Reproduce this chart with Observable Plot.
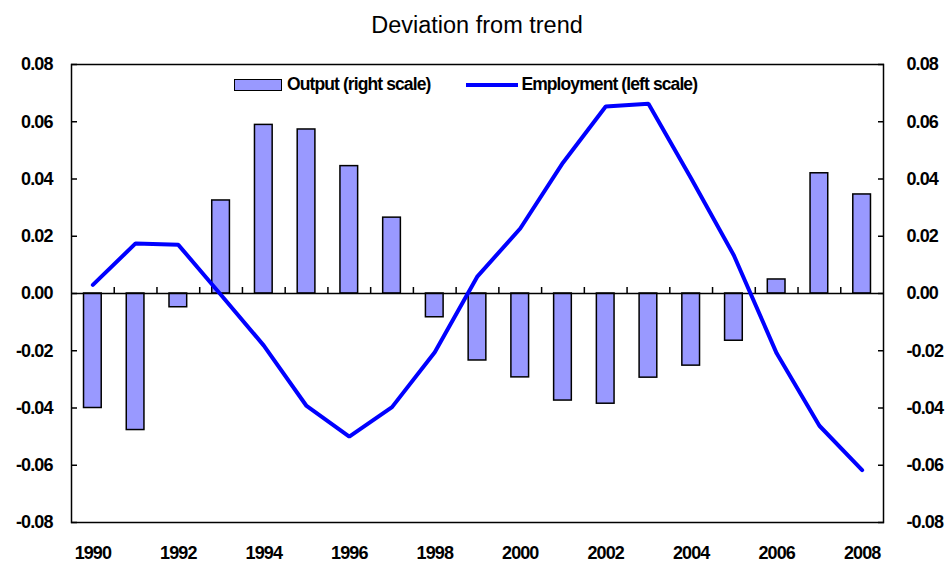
<!DOCTYPE html>
<html>
<head>
<meta charset="utf-8">
<script src="https://cdn.jsdelivr.net/npm/d3@7"></script>
<script src="https://cdn.jsdelivr.net/npm/@observablehq/plot@0.6"></script>
<style>
  body { margin: 0; background: #fff; }
  #wrap { position: relative; width: 946px; height: 563px; font-family: "Liberation Sans", Arial, sans-serif; }
  #title { height: 34px; padding-top: 14px; line-height: 23px; font-size: 23.5px; text-align: center; padding-left: 8px; color: #000; }
  #legend { position: absolute; top: 74px; left: 234px; display: flex; align-items: center; font-size: 17.5px; font-weight: bold; letter-spacing: -0.9px; color: #000; }
  #legend .sw { display: inline-block; }
</style>
</head>
<body>
<div id="wrap">
  <div id="title">Deviation from trend</div>
  <div id="chart"></div>
  <div id="legend"></div>
</div>
<script>
const years = [1990,1991,1992,1993,1994,1995,1996,1997,1998,1999,2000,2001,2002,2003,2004,2005,2006,2007,2008];
const output = [-0.0400,-0.0477,-0.0048,0.0325,0.0589,0.0573,0.0445,0.0265,-0.0083,-0.0234,-0.0293,-0.0374,-0.0385,-0.0294,-0.0252,-0.0165,0.0049,0.0420,0.0346];
const employment = [0.0030,0.0175,0.0170,-0.0005,-0.0182,-0.0393,-0.0500,-0.0397,-0.0205,0.0060,0.0227,0.0457,0.0653,0.0663,0.0402,0.0133,-0.0209,-0.0462,-0.0617];
const yTicks = [-0.08,-0.06,-0.04,-0.02,0,0.02,0.04,0.06,0.08];
const xLabels = [1990,1992,1994,1996,1998,2000,2002,2004,2006,2008];
const seriesNames = ["Output (right scale)", "Employment (left scale)"];

const barColor = "#9999ff";
const lineColor = "#0000ff";

const data = years.map((yr, i) => ({year: yr, output: output[i], employment: employment[i]}));
const boundaries = years.slice(0, -1).map(y => y + 0.5);
const halfBar = 0.207;
const tickLen = 0.0021;

const fmt = d => d.toFixed(2);

const chart = Plot.plot({
  width: 946,
  height: 515,
  marginLeft: 71,
  marginRight: 63,
  marginTop: 16,
  marginBottom: 41,
  style: {fontFamily: "'Liberation Sans', Arial, sans-serif", fontSize: "18px", fontWeight: "bold", letterSpacing: "-0.9px", color: "#000", background: "#fff"},
  x: {domain: [1989.5, 2008.5]},
  y: {domain: [-0.08, 0.08]},
  marks: [
    Plot.rectY(data, {x1: d => d.year - halfBar, x2: d => d.year + halfBar, y1: 0, y2: "output", fill: barColor, stroke: "#000", strokeWidth: 1.5}),
    Plot.ruleY([0], {stroke: "#000", strokeWidth: 1.5}),
    Plot.ruleX(boundaries, {x: d => d, y1: 0, y2: tickLen, stroke: "#000", strokeWidth: 1.5}),
    Plot.line(data, {x: "year", y: "employment", stroke: lineColor, strokeWidth: 4, strokeLinejoin: "miter", strokeLinecap: "round"}),
    Plot.frame({stroke: "#000", strokeWidth: 1.5}),
    Plot.axisY(yTicks, {anchor: "left", tickSize: -6, text: null, strokeWidth: 1.5, label: null}),
    Plot.axisY(yTicks, {anchor: "left", tickSize: 0, tickPadding: 19, tickFormat: fmt, label: null, fill: "#000"}),
    Plot.axisY(yTicks, {anchor: "right", tickSize: -6, text: null, strokeWidth: 1.5, label: null}),
    Plot.axisY(yTicks, {anchor: "right", tickSize: 0, tickPadding: 23, tickFormat: fmt, label: null, fill: "#000"}),
    Plot.axisX(xLabels, {anchor: "bottom", tickSize: 0, tickPadding: 24, tickFormat: d => String(d), label: null, fill: "#000"})
  ]
});
document.getElementById("chart").appendChild(chart);

// legend
const legend = document.getElementById("legend");
legend.innerHTML =
  `<span class="sw" style="width:48px;height:12px;background:${barColor};border:1.5px solid #000;box-sizing:border-box;"></span>` +
  `<span style="margin-left:5px;">${seriesNames[0]}</span>` +
  `<span class="sw" style="width:52px;height:4px;background:${lineColor};margin-left:36px;"></span>` +
  `<span style="margin-left:3px;">${seriesNames[1]}</span>`;
</script>
</body>
</html>
